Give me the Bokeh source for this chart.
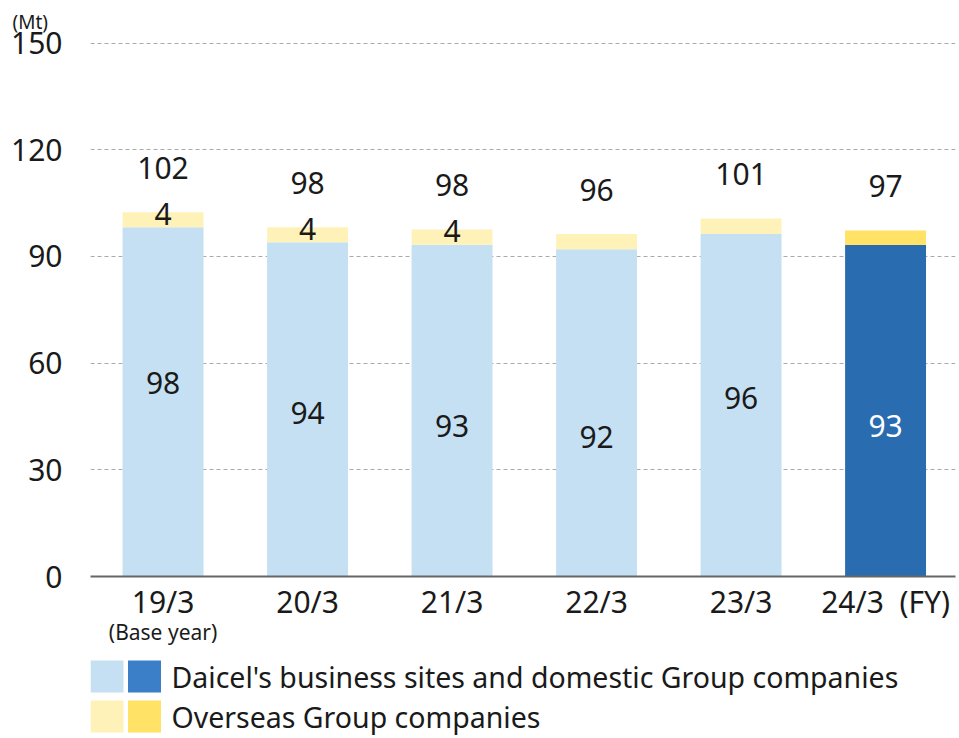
from bokeh.plotting import figure
from bokeh.models import Range1d, FixedTicker, ColumnDataSource, LinearAxis
from bokeh.layouts import column
from bokeh.embed import file_html
from bokeh.resources import INLINE
from bokeh.core.properties import value

# ---- data ----
categories = ["19/3", "20/3", "21/3", "22/3", "23/3", "24/3\u00a0\u00a0(FY)"]
sub_labels = {0: "(Base year)"}
domestic = [98.2, 94.0, 93.3, 92.0, 96.3, 93.2]
overseas = [4.2, 4.2, 4.3, 4.3, 4.4, 4.1]
overseas_labeled = [True, True, True, False, False, False]
domestic_label_y = [54.3, 45.9, 42.2, 39.1, 50.1, 42.2]
highlight = [False, False, False, False, False, True]
y_ticks = [0, 30, 60, 90, 120, 150]
unit_label = "(Mt)"

FONT = "Noto Sans"
NUM_SIZE = "30px"
LIGHT_BLUE = "#c5e0f3"
DARK_BLUE = "#2a6cb0"
LEG_DARK_BLUE = "#3a7fc8"
LIGHT_YEL = "#fff2b9"
DARK_YEL = "#ffe266"
TXT = "#1a1a1a"

n = len(categories)
xs = list(range(n))
totals = [d + o for d, o in zip(domestic, overseas)]

src = ColumnDataSource(dict(
    x=xs,
    dom=domestic,
    tot=totals,
    dom_col=[DARK_BLUE if h else LIGHT_BLUE for h in highlight],
    ov_col=[DARK_YEL if h else LIGHT_YEL for h in highlight],
    dom_lab=[str(round(d)) for d in domestic],
    dom_lab_y=domestic_label_y,
    dom_lab_col=["#ffffff" if h else TXT for h in highlight],
    tot_lab=[str(round(t)) for t in totals],
))

ov_idx = [i for i in xs if overseas_labeled[i]]
ov_src = ColumnDataSource(dict(
    x=ov_idx,
    y=[domestic[i] + overseas[i] / 2 for i in ov_idx],
    t=[str(round(overseas[i])) for i in ov_idx],
))

p = figure(width=959, height=648, output_backend="svg", toolbar_location=None,
           x_range=Range1d(-0.502, 5.484), y_range=Range1d(0, 151),
           min_border_left=90, min_border_right=4, min_border_top=39,
           min_border_bottom=72, title=unit_label)
p.outline_line_color = None
p.background_fill_color = "white"
p.border_fill_color = "white"
p.title.align = "left"
p.title.offset = -78
p.title.text_font = FONT
p.title.text_font_size = "19px"
p.title.text_font_style = "normal"
p.title.text_color = TXT
p.title.standoff = 9

p.vbar(x="x", width=0.56, bottom=0, top="dom", fill_color="dom_col",
       line_color=None, source=src)
p.vbar(x="x", width=0.56, bottom="dom", top="tot", fill_color="ov_col",
       line_color=None, source=src)

p.text(x="x", y="dom_lab_y", text="dom_lab", source=src,
       text_font=value(FONT), text_font_size=NUM_SIZE, text_color="dom_lab_col",
       text_align="center", text_baseline="middle")
p.text(x="x", y="tot", text="tot_lab", source=src,
       text_font=value(FONT), text_font_size=NUM_SIZE, text_color=TXT,
       text_align="center", text_baseline="middle", y_offset=-44)
p.text(x="x", y="y", text="t", source=ov_src,
       text_font=value(FONT), text_font_size=NUM_SIZE, text_color=TXT,
       text_align="center", text_baseline="middle", y_offset=-6)

# axes
p.yaxis.ticker = FixedTicker(ticks=y_ticks)
p.yaxis.axis_line_color = None
p.yaxis.major_tick_line_color = None
p.yaxis.minor_tick_line_color = None
p.yaxis.major_tick_out = 0
p.yaxis.major_tick_in = 0
p.yaxis.major_label_text_font = FONT
p.yaxis.major_label_text_font_size = NUM_SIZE
p.yaxis.major_label_text_color = TXT
p.yaxis.major_label_standoff = 28

p.xaxis.ticker = FixedTicker(ticks=xs)
p.xaxis.major_label_overrides = {i: c for i, c in enumerate(categories)}
p.xaxis.axis_line_color = "#666666"
p.xaxis.axis_line_width = 2
p.xaxis.major_tick_line_color = None
p.xaxis.minor_tick_line_color = None
p.xaxis.major_tick_out = 0
p.xaxis.major_tick_in = 0
p.xaxis.major_label_text_font = FONT
p.xaxis.major_label_text_font_size = NUM_SIZE
p.xaxis.major_label_text_color = TXT
p.xaxis.major_label_standoff = 4

sub_axis = LinearAxis(ticker=FixedTicker(ticks=list(sub_labels.keys())),
                      major_label_overrides=sub_labels)
sub_axis.axis_line_color = None
sub_axis.major_tick_line_color = None
sub_axis.minor_tick_line_color = None
sub_axis.major_tick_out = 0
sub_axis.major_tick_in = 0
sub_axis.major_label_text_font = FONT
sub_axis.major_label_text_font_size = "21px"
sub_axis.major_label_text_color = TXT
sub_axis.major_label_standoff = -7
p.add_layout(sub_axis, "below")

p.xgrid.grid_line_color = None
p.ygrid.ticker = FixedTicker(ticks=y_ticks[1:])
p.ygrid.grid_line_color = "#aaaaaa"
p.ygrid.grid_line_dash = "4 3"
p.ygrid.grid_line_width = 1

# ---- legend figure ----
leg = figure(width=959, height=90, output_backend="svg", toolbar_location=None,
             x_range=Range1d(90, 955), y_range=Range1d(90, 0),
             min_border_left=90, min_border_right=4, min_border_top=0,
             min_border_bottom=0)
leg.axis.visible = False
leg.grid.visible = False
leg.outline_line_color = None

leg_labels = ["Daicel's business sites and domestic Group companies",
              "Overseas Group companies"]
leg_light = [LIGHT_BLUE, LIGHT_YEL]
leg_dark = [LEG_DARK_BLUE, DARK_YEL]
row_y = [28, 68]
leg.rect(x=[106.5] * 2, y=row_y, width=33, height=32, fill_color=leg_light, line_color=None)
leg.rect(x=[144] * 2, y=row_y, width=33, height=32, fill_color=leg_dark, line_color=None)
leg.text(x=[171] * 2, y=row_y, text=leg_labels, text_font=value(FONT),
         text_font_size="28.5px", text_color=TXT, text_baseline="middle",
         text_align="left")

layout = column(p, leg, spacing=0)
open("out.html", "w").write(file_html(layout, INLINE))
